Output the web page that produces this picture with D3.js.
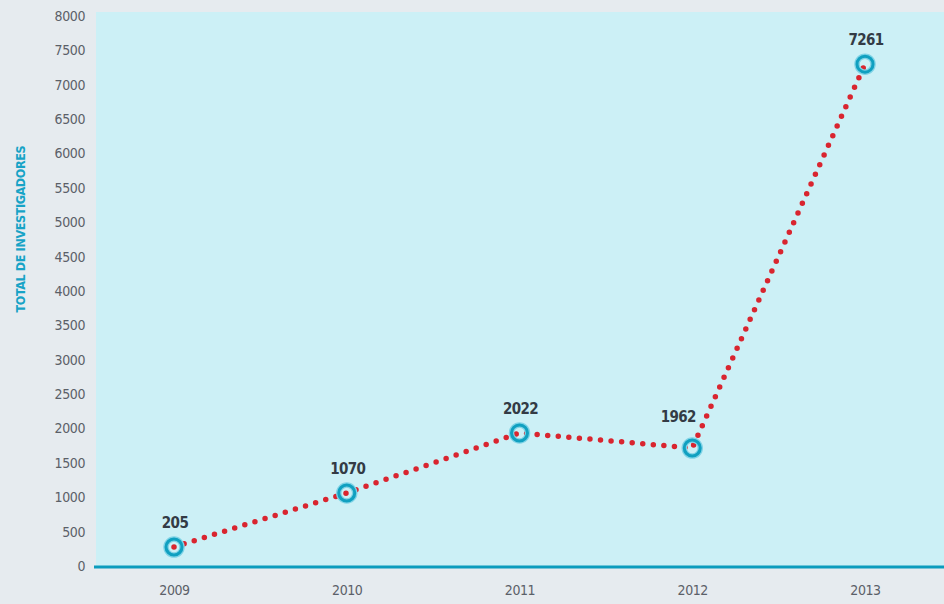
<!DOCTYPE html>
<html><head><meta charset="utf-8">
<script src="https://cdn.jsdelivr.net/npm/d3@7"></script>
<style>
html,body{margin:0;padding:0;background:#e6ebef;}
svg{display:block;}
text{font-family:"Liberation Sans Narrow","DejaVu Sans Condensed","Noto Sans",sans-serif;}
</style></head>
<body>
<svg id="c" width="944" height="604"></svg>
<script>
const years = ["2009","2010","2011","2012","2013"];
const values = [276, 1062, 1935, 1716, 7300];   // plotted positions
const labels = ["205","1070","2022","1962","7261"]; // printed data labels
const yTicks = [0,500,1000,1500,2000,2500,3000,3500,4000,4500,5000,5500,6000,6500,7000,7500,8000];
const yTitle = "TOTAL DE INVESTIGADORES";

const svg = d3.select("#c");
const W = 944, H = 604;
const mLeft = 96, mTop = 12, mBottom = 566;

const x = d3.scalePoint().domain(years).range([174, 865]);
const y = d3.scaleLinear().domain([0, 8000]).range([mBottom, 16]);

svg.append("rect").attr("width", W).attr("height", H).attr("fill", "#e6ebef");
svg.append("rect").attr("x", mLeft).attr("y", mTop).attr("width", W - mLeft).attr("height", mBottom - mTop).attr("fill", "#ccf0f6");

// y axis labels
const ya = svg.append("g").attr("transform", `translate(85,0)`)
  .call(d3.axisLeft(y).tickValues(yTicks).tickSize(0).tickPadding(0).tickFormat(d3.format("d")));
ya.select(".domain").remove();
ya.selectAll("text").attr("fill", "#5b6068").attr("font-size", 14).attr("letter-spacing", -0.4);

// x axis
const xa = svg.append("g").attr("transform", `translate(0,${mBottom + 1})`)
  .call(d3.axisBottom(x).tickSize(0).tickPadding(18));
xa.select(".domain").remove();
xa.selectAll("text").attr("fill", "#5b6068").attr("font-size", 14).attr("letter-spacing", -0.4);
svg.append("line").attr("x1", 94).attr("x2", W).attr("y1", mBottom + 1).attr("y2", mBottom + 1)
  .attr("stroke", "#0b9cbd").attr("stroke-width", 3);

// y title
svg.append("text").attr("transform", `translate(25,${y(4900)}) rotate(-90)`)
  .attr("text-anchor", "middle").attr("font-weight", "bold").attr("font-size", 12.5)
  .attr("letter-spacing", -0.4)
  .attr("fill", "#17a3c6").text(yTitle);

const data = years.map((yr, i) => ({yr, v: values[i], lab: labels[i], i}));

// dotted line
svg.append("path").datum(data)
  .attr("d", d3.line().x(d => x(d.yr)).y(d => y(d.v)))
  .attr("fill", "none").attr("stroke", "#d9252f").attr("stroke-width", 5.5)
  .attr("stroke-linecap", "round").attr("stroke-dasharray", "0,10.6");

// markers
const g = svg.append("g");
g.selectAll("circle.halo").data(data).join("circle")
  .attr("cx", d => x(d.yr)).attr("cy", d => y(d.v)).attr("r", 8)
  .attr("fill", "none").attr("stroke", "#7fd3e6").attr("stroke-width", 5.5);
g.selectAll("circle.ring").data(data).join("circle")
  .attr("cx", d => x(d.yr)).attr("cy", d => y(d.v)).attr("r", 8)
  .attr("fill", "none").attr("stroke", "#10a0c0").attr("stroke-width", 3);

// labels (shifted left when the next segment climbs steeply)
const steep = d => { const nx = data[d.i + 1]; return nx && nx.v - d.v > 3000; };
svg.selectAll("text.lab").data(data).join("text")
  .attr("class", "lab")
  .attr("x", d => x(d.yr) + (steep(d) ? -14 : 1))
  .attr("y", d => y(d.v) - (steep(d) ? 26 : 19))
  .attr("text-anchor", "middle").attr("font-weight", "bold").attr("font-size", 15)
  .attr("letter-spacing", -0.6)
  .attr("fill", "#333b45").text(d => d.lab);
</script>
</body></html>
